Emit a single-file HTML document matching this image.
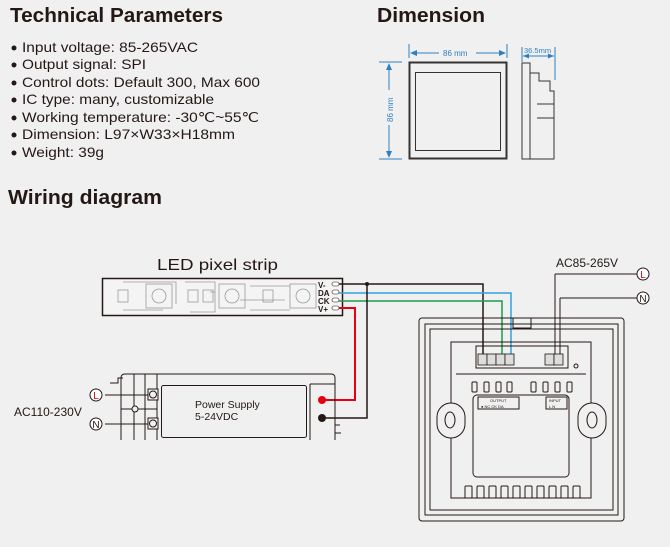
<!DOCTYPE html>
<html><head><meta charset="utf-8"><style>
body{margin:0;background:#f0f0f0}
svg{display:block;font-family:"Liberation Sans",sans-serif}
</style></head><body>
<svg width="670" height="547" viewBox="0 0 670 547" xmlns="http://www.w3.org/2000/svg">
<rect width="670" height="547" fill="#f0f0f0"/>
<!-- Headings -->
<text x="10" y="22" font-size="20" font-weight="bold" fill="#231815" textLength="213" lengthAdjust="spacingAndGlyphs">Technical Parameters</text>
<text x="377" y="22" font-size="20" font-weight="bold" fill="#231815" textLength="108" lengthAdjust="spacingAndGlyphs">Dimension</text>
<text x="8" y="204" font-size="20" font-weight="bold" fill="#231815" textLength="154" lengthAdjust="spacingAndGlyphs">Wiring diagram</text>
<g font-size="14" fill="#231815">
<g fill="#231815"><circle cx="14" cy="48" r="2.5"/><circle cx="14" cy="65" r="2.5"/><circle cx="14" cy="83" r="2.5"/><circle cx="14" cy="100" r="2.5"/><circle cx="14" cy="118" r="2.5"/><circle cx="14" cy="135" r="2.5"/><circle cx="14" cy="153" r="2.5"/></g>
<text x="22" y="52" textLength="176" lengthAdjust="spacingAndGlyphs">Input voltage: 85-265VAC</text>
<text x="22" y="69" textLength="124" lengthAdjust="spacingAndGlyphs">Output signal: SPI</text>
<text x="22" y="87" textLength="238" lengthAdjust="spacingAndGlyphs">Control dots: Default 300, Max 600</text>
<text x="22" y="104" textLength="192" lengthAdjust="spacingAndGlyphs">IC type: many, customizable</text>
<text x="22" y="122" textLength="237" lengthAdjust="spacingAndGlyphs">Working temperature: -30℃~55℃</text>
<text x="22" y="139" textLength="213" lengthAdjust="spacingAndGlyphs">Dimension: L97×W33×H18mm</text>
<text x="22" y="157" textLength="82" lengthAdjust="spacingAndGlyphs">Weight: 39g</text>
</g>
<!-- Dimension drawings -->
<g fill="none" stroke="#333">
<rect x="409.5" y="62.5" width="97" height="96" stroke-width="2"/>
<rect x="415.5" y="72.5" width="85" height="78" stroke-width="1"/>
<path d="M522,63 h8 v96 h-8 z" stroke-width="1"/>
<path d="M530,73 h9 v8 h11 v10 h4 v68 h-24" stroke-width="1"/>
<line x1="537" y1="104" x2="554" y2="104"/><line x1="537" y1="118" x2="554" y2="118"/>
</g>
<g stroke="#2f7fc1" fill="#2f7fc1" stroke-width="1">
<line x1="409" y1="44" x2="409" y2="58"/><line x1="507" y1="44" x2="507" y2="58"/>
<line x1="412" y1="53" x2="439" y2="53"/><line x1="476" y1="53" x2="505" y2="53"/>
<path d="M410,53 l7,-3 v6z M506,53 l-7,-3 v6z" stroke="none"/>
<line x1="379" y1="62" x2="402" y2="62"/><line x1="379" y1="159" x2="402" y2="159"/>
<line x1="389" y1="64" x2="389" y2="90"/><line x1="389" y1="125" x2="389" y2="157"/>
<path d="M389,63 l-3,7 h6z M389,158 l-3,-7 h6z" stroke="none"/>
<line x1="522" y1="47" x2="522" y2="62"/><line x1="555" y1="47" x2="555" y2="80"/>
<line x1="523" y1="56" x2="554" y2="56"/>
<path d="M523,56 l6,-2.5 v5z M554,56 l-6,-2.5 v5z" stroke="none"/>
</g>
<g fill="#2f7fc1" font-size="8">
<text x="443" y="56">86 mm</text>
<text x="524" y="53" font-size="7.5">36.5mm</text>
<text transform="translate(393,122) rotate(-90)">86 mm</text>
</g>
<!-- LED strip -->
<text x="157" y="270" font-size="16" fill="#231815" textLength="121" lengthAdjust="spacingAndGlyphs">LED pixel strip</text>
<rect x="102.5" y="278.5" width="240" height="37" fill="#f4f4f4" stroke="#231815" stroke-width="1.5"/>
<g fill="none" stroke="#999" stroke-width="0.8">
<rect x="118" y="290" width="10" height="12"/><rect x="146" y="284" width="26" height="24"/>
<rect x="188" y="290" width="10" height="12"/><rect x="203" y="290" width="10" height="12"/>
<rect x="219" y="284" width="26" height="24"/><rect x="263" y="290" width="10" height="12"/>
<rect x="290" y="284" width="26" height="24"/>
<circle cx="159" cy="296" r="7"/><circle cx="232" cy="296" r="7"/><circle cx="303" cy="296" r="7"/>
<path d="M123,282 h53 v22 M123,310 h40 M185,282 h30 v30 h-25 M215,292 h-5 M240,300 h45 M250,286 h40 M250,310 h40"/>
</g>
<g fill="#231815" font-size="8" font-weight="bold">
<text x="318" y="288">V-</text><text x="318" y="296">DA</text><text x="318" y="304">CK</text><text x="318" y="312">V+</text>
</g>
<g fill="#fff" stroke="#231815" stroke-width="0.6">
<rect x="332" y="282" width="7" height="4" rx="2"/><rect x="332" y="290" width="7" height="4" rx="2"/><rect x="332" y="298" width="7" height="4" rx="2"/><rect x="332" y="306" width="7" height="4" rx="2"/>
</g>
<!-- wires -->
<g fill="none" stroke-width="1.5">
<path d="M339,284 H483 V356" stroke="#231815"/>
<path d="M339,293 H511 V356" stroke="#2ea3dc"/>
<path d="M339,301 H502 V356" stroke="#1f9a4a"/>
<path d="M367,284 V418 H324" stroke="#231815"/>
<path d="M339,308 H355 V400 H324" stroke="#e60012" stroke-width="2"/>
<path d="M555,274 H637" stroke="#231815" stroke-width="1"/>
<path d="M555,274 V357" stroke="#231815" stroke-width="1"/>
<path d="M560,298 H637 M560,298 V357" stroke="#231815" stroke-width="1"/>
</g>
<circle cx="367" cy="284" r="2" fill="#231815"/>
<!-- Power supply -->
<g fill="none" stroke="#231815" stroke-width="1">
<path d="M121,440 V378 Q121,374 125,374 H331 Q335,374 335,378 V440"/>
<line x1="134" y1="374" x2="134" y2="440"/><line x1="145" y1="374" x2="145" y2="440"/>
<line x1="157" y1="374" x2="157" y2="440"/>
<rect x="161.5" y="385.5" width="145" height="52" rx="2"/>
<line x1="310" y1="384" x2="335" y2="384"/>
<line x1="310" y1="384" x2="310" y2="440"/>
<path d="M105,395 H150 M105,424 H150 M121,409 h36"/>
<circle cx="135" cy="409" r="3" fill="#f0f0f0"/>
<rect x="148" y="389" width="10" height="11" fill="#f0f0f0"/><rect x="148" y="418" width="10" height="11" fill="#f0f0f0"/>
<circle cx="153" cy="394.5" r="3.5"/><circle cx="153" cy="423.5" r="3.5"/>
<path d="M110,383 h8 v-5 h5 M340,425 h-5 v8 h6"/>
</g>
<circle cx="322" cy="400" r="4" fill="#e60012"/><circle cx="322" cy="418" r="4" fill="#231815"/>
<text x="195" y="408" font-size="10.5" fill="#231815">Power Supply</text>
<text x="195" y="420" font-size="10.5" fill="#231815">5-24VDC</text>
<text x="14" y="416" font-size="12" fill="#231815">AC110-230V</text>
<g fill="#fff" stroke="#231815" stroke-width="1">
<circle cx="96" cy="395" r="6"/><circle cx="96" cy="424" r="6"/>
<circle cx="643" cy="274" r="6"/><circle cx="643" cy="298" r="6"/>
</g>
<g font-size="10" text-anchor="middle">
<text x="96" y="399" fill="#e60012">L</text><text x="96" y="428" fill="#231815">N</text>
<text x="643" y="278" fill="#e60012">L</text><text x="643" y="302" fill="#231815">N</text>
</g>
<text x="556" y="267" font-size="12" fill="#231815">AC85-265V</text>
<!-- Switch -->
<g fill="none" stroke="#231815" stroke-width="1">
<rect x="419" y="318" width="205" height="203" rx="3"/>
<rect x="425" y="324" width="193" height="191"/>
<rect x="430" y="329" width="183" height="181"/>
<rect x="451" y="342" width="140" height="156"/>
<line x1="456" y1="374" x2="586" y2="374"/>
<rect x="476" y="346" width="92" height="22"/>
<rect x="473" y="395" width="96" height="82" rx="4"/>
<rect x="513" y="318" width="18" height="10"/>
<rect x="437" y="403" width="28" height="35" rx="14" fill="#f0f0f0"/>
<rect x="578" y="403" width="28" height="35" rx="14" fill="#f0f0f0"/>
<ellipse cx="450" cy="420" rx="5" ry="8"/><ellipse cx="592" cy="420" rx="5" ry="8"/>
<circle cx="576" cy="366" r="2"/>
<rect x="478" y="397" width="41" height="12"/><rect x="546" y="397" width="21" height="12"/>
</g>
<g fill="#ddd" stroke="#231815" stroke-width="0.8">
<rect x="478" y="354" width="9" height="11"/><rect x="487" y="354" width="9" height="11"/><rect x="496" y="354" width="9" height="11"/><rect x="505" y="354" width="9" height="11"/>
<rect x="545" y="354" width="9" height="11"/><rect x="554" y="354" width="9" height="11"/>
</g>
<g fill="none" stroke="#231815" stroke-width="1">
<rect x="472" y="382" width="5" height="10" rx="1"/><rect x="484" y="382" width="5" height="10" rx="1"/><rect x="496" y="382" width="5" height="10" rx="1"/><rect x="507" y="382" width="5" height="10" rx="1"/>
<rect x="531" y="382" width="5" height="10" rx="1"/><rect x="543" y="382" width="5" height="10" rx="1"/><rect x="555" y="382" width="5" height="10" rx="1"/><rect x="567" y="382" width="5" height="10" rx="1"/>
<rect x="465" y="486" width="7" height="12" rx="1"/><rect x="477" y="486" width="7" height="12" rx="1"/><rect x="489" y="486" width="7" height="12" rx="1"/><rect x="501" y="486" width="7" height="12" rx="1"/><rect x="513" y="486" width="7" height="12" rx="1"/><rect x="525" y="486" width="7" height="12" rx="1"/><rect x="537" y="486" width="7" height="12" rx="1"/><rect x="549" y="486" width="7" height="12" rx="1"/><rect x="561" y="486" width="7" height="12" rx="1"/><rect x="573" y="486" width="7" height="12" rx="1"/>
</g>
<g font-size="4" fill="#231815"><text x="490" y="402">OUTPUT</text><text x="481" y="408">● NC  CK  DA</text><text x="549" y="402">INPUT</text><text x="549" y="408">L  N</text></g>
</svg>
</body></html>
